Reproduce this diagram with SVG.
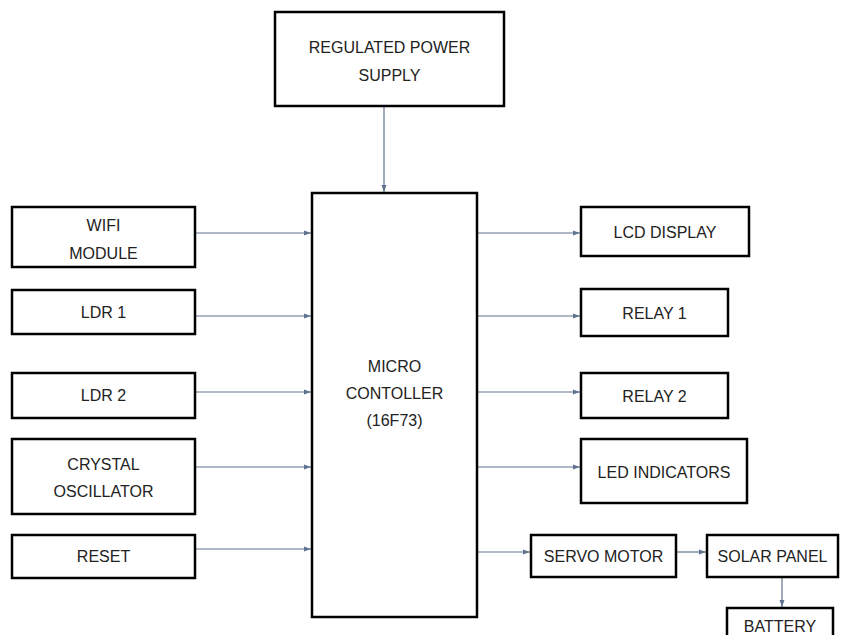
<svg xmlns="http://www.w3.org/2000/svg" width="841" height="635" viewBox="0 0 841 635">
<style>
.b{fill:#fff;stroke:#000;stroke-width:2.5}
.t{font-family:"Liberation Sans",Arial,sans-serif;font-size:16px;fill:#222;text-anchor:middle}
.c{stroke:#5f7390;stroke-width:1.2;fill:none;marker-end:url(#a)}
</style>
<defs>
<marker id="a" markerWidth="8" markerHeight="6" refX="7" refY="3" orient="auto" markerUnits="userSpaceOnUse">
<path d="M0,0.5 L7,3 L0,5.5 Z" fill="#5f7390"/>
</marker>
</defs>
<rect width="841" height="635" fill="#fff"/>
<g id="connectors">
<line class="c" x1="384" y1="106" x2="384" y2="192"/>
<line class="c" x1="195" y1="233" x2="311" y2="233"/>
<line class="c" x1="195" y1="316" x2="311" y2="316"/>
<line class="c" x1="195" y1="392" x2="311" y2="392"/>
<line class="c" x1="195" y1="467" x2="311" y2="467"/>
<line class="c" x1="195" y1="549" x2="311" y2="549"/>
<line class="c" x1="477" y1="233" x2="580" y2="233"/>
<line class="c" x1="477" y1="316" x2="580" y2="316"/>
<line class="c" x1="477" y1="392" x2="580" y2="392"/>
<line class="c" x1="477" y1="467" x2="580" y2="467"/>
<line class="c" x1="477" y1="552" x2="530" y2="552"/>
<line class="c" x1="676" y1="552" x2="706" y2="552"/>
<line class="c" x1="782" y1="577" x2="782" y2="607"/>
</g>
<g id="power"><rect class="b" x="275" y="12" width="229" height="94"/><text class="t" x="389.5" y="53">REGULATED POWER</text><text class="t" x="389.5" y="81">SUPPLY</text></g>
<g id="micro"><rect class="b" x="312" y="193" width="165" height="424"/><text class="t" x="394.5" y="372">MICRO</text><text class="t" x="394.5" y="399">CONTOLLER</text><text class="t" x="394.5" y="426">(16F73)</text></g>
<g id="wifi"><rect class="b" x="12" y="207" width="183" height="60"/><text class="t" x="103.5" y="231">WIFI</text><text class="t" x="103.5" y="259">MODULE</text></g>
<g id="ldr1"><rect class="b" x="12" y="290" width="183" height="44"/><text class="t" x="103.5" y="318">LDR 1</text></g>
<g id="ldr2"><rect class="b" x="12" y="373" width="183" height="45"/><text class="t" x="103.5" y="401">LDR 2</text></g>
<g id="crystal"><rect class="b" x="12" y="439" width="183" height="75"/><text class="t" x="103.5" y="470">CRYSTAL</text><text class="t" x="103.5" y="497">OSCILLATOR</text></g>
<g id="reset"><rect class="b" x="12" y="535" width="183" height="43"/><text class="t" x="103.5" y="562">RESET</text></g>
<g id="lcd"><rect class="b" x="581" y="207" width="168" height="49"/><text class="t" x="665" y="238">LCD DISPLAY</text></g>
<g id="relay1"><rect class="b" x="581" y="289" width="147" height="47"/><text class="t" x="654.5" y="319">RELAY 1</text></g>
<g id="relay2"><rect class="b" x="581" y="373" width="147" height="45"/><text class="t" x="654.5" y="402">RELAY 2</text></g>
<g id="led"><rect class="b" x="581" y="439" width="166" height="64"/><text class="t" x="664" y="478">LED INDICATORS</text></g>
<g id="servo"><rect class="b" x="531" y="535" width="145" height="42"/><text class="t" x="603.5" y="562">SERVO MOTOR</text></g>
<g id="solar"><rect class="b" x="707" y="535" width="131" height="42"/><text class="t" x="772.5" y="562">SOLAR PANEL</text></g>
<g id="battery"><rect class="b" x="727" y="608" width="106" height="40"/><text class="t" x="780" y="632">BATTERY</text></g>
</svg>
